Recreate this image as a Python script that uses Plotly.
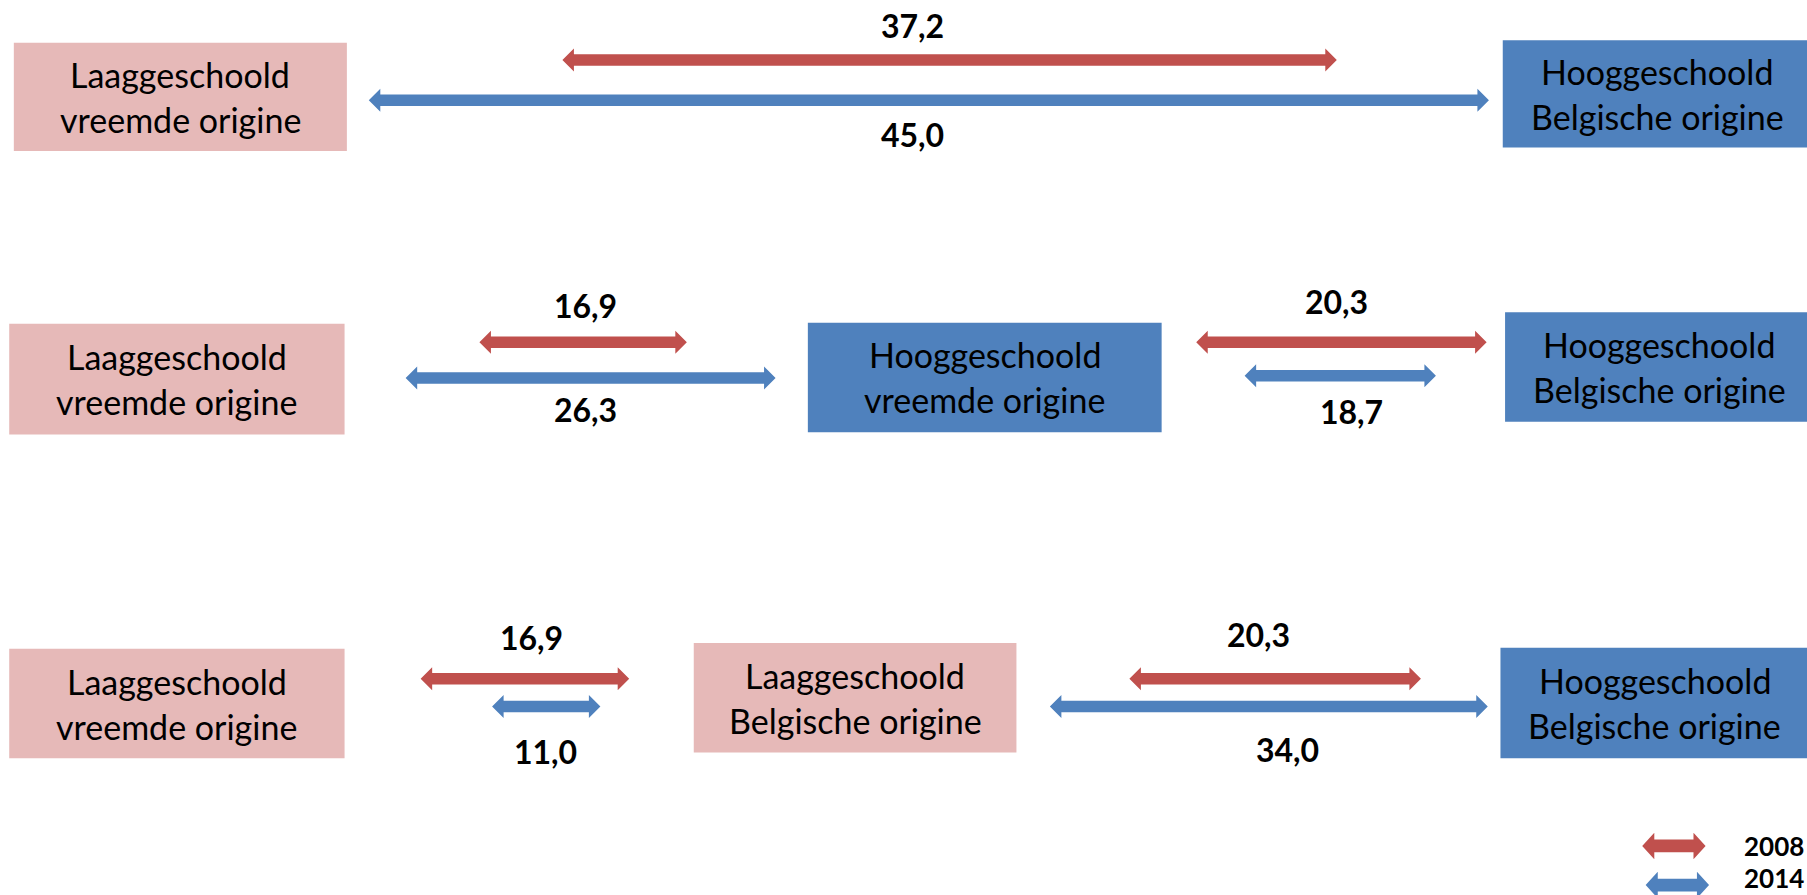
import plotly.graph_objects as go

# ---------------- data ----------------
years = ["2008", "2014"]
gap_2008 = [37.2, 16.9, 20.3, 16.9, 20.3]
gap_2014 = [45.0, 26.3, 18.7, 11.0, 34.0]

box_labels = [
    "Laaggeschoold\nvreemde origine", "Hooggeschoold\nBelgische origine",
    "Laaggeschoold\nvreemde origine", "Hooggeschoold\nvreemde origine", "Hooggeschoold\nBelgische origine",
    "Laaggeschoold\nvreemde origine", "Laaggeschoold\nBelgische origine", "Hooggeschoold\nBelgische origine",
]
box_level = ["laag", "hoog", "laag", "hoog", "hoog", "laag", "laag", "hoog"]

# ---------------- layout (positions, in reference pixel units) ----------------
S = 1807 / 1568
W = 1568
H = 895 / S

box_x0 = [12, 1304, 8, 701, 1306, 8, 602, 1302]
box_x1 = [301, 1572, 299, 1008, 1574, 299, 882, 1570]
box_y0 = [37, 35, 281, 280, 271, 563, 558, 562]
box_y1 = [131, 128, 377, 375, 366, 658, 653, 658]

arr08_x0 = [488, 416, 1038, 365, 980]
arr08_x1 = [1160, 596, 1290, 546, 1233]
arr08_y = [52, 297, 297, 589, 589]
lab08_x = [792, 508, 1160, 461, 1092]
lab08_y = [22, 265, 262, 553, 551]

arr14_x0 = [320, 352, 1080, 427, 911]
arr14_x1 = [1292, 673, 1246, 521, 1291]
arr14_y = [87, 328, 326, 613, 613]
lab14_x = [792, 508, 1173, 473, 1117]
lab14_y = [117, 355, 357, 652, 650]

leg_x0 = [1425, 1428]
leg_x1 = [1480, 1483]
leg_y = [734, 768]
leg_text_x = 1512
leg_text_y = [734, 762]

RED = "#C0504D"
BLUE = "#4F81BD"
PINK = "#E6B9B8"
FONT = "Lato"

fig = go.Figure()


def arrow(x0, x1, yc, color, h=5.0, hh=10.0, hl=10.0):
    xs = [x0, x0 + hl, x0 + hl, x1 - hl, x1 - hl, x1, x1 - hl, x1 - hl, x0 + hl, x0 + hl, x0]
    ys = [yc, yc - hh, yc - h, yc - h, yc - hh, yc, yc + hh, yc + h, yc + h, yc + hh, yc]
    fig.add_trace(go.Scatter(x=xs, y=ys, mode="lines", fill="toself", fillcolor=color,
                             line=dict(width=0, color=color), hoverinfo="skip", showlegend=False))


# boxes
for lab, lvl, x0, x1, y0, y1 in zip(box_labels, box_level, box_x0, box_x1, box_y0, box_y1):
    fig.add_shape(type="rect", xref="x", yref="y", x0=x0, x1=x1, y0=y0, y1=y1,
                  fillcolor=PINK if lvl == "laag" else BLUE, line=dict(width=0), layer="below")
    lines = lab.split("\n")
    cx = (x0 + x1) / 2
    cy = (y0 + y1) / 2
    for i, ln in enumerate(lines):
        fig.add_annotation(x=cx, y=cy + (i - 0.5) * 39, xref="x", yref="y", text=ln,
                           showarrow=False, font=dict(family=FONT, size=34, color="black"),
                           xanchor="center", yanchor="middle")


def fmt(v):
    return f"{v:.1f}".replace(".", ",")


for v, x0, x1, y, lx, ly in zip(gap_2008, arr08_x0, arr08_x1, arr08_y, lab08_x, lab08_y):
    arrow(x0, x1, y, RED)
    fig.add_annotation(x=lx, y=ly, xref="x", yref="y", text="<b>" + fmt(v) + "</b>", showarrow=False,
                       font=dict(family=FONT, size=32, color="black"), xanchor="center", yanchor="middle")

for v, x0, x1, y, lx, ly in zip(gap_2014, arr14_x0, arr14_x1, arr14_y, lab14_x, lab14_y):
    arrow(x0, x1, y, BLUE)
    fig.add_annotation(x=lx, y=ly, xref="x", yref="y", text="<b>" + fmt(v) + "</b>", showarrow=False,
                       font=dict(family=FONT, size=32, color="black"), xanchor="center", yanchor="middle")

# legend
for yr, col, x0, x1, y, ty in zip(years, [RED, BLUE], leg_x0, leg_x1, leg_y, leg_text_y):
    arrow(x0, x1, y, col, h=5.5, hh=11.5, hl=10.5)
    fig.add_annotation(x=leg_text_x, y=ty, xref="x", yref="y", text="<b>" + yr + "</b>", showarrow=False,
                       font=dict(family=FONT, size=26, color="black"), xanchor="left", yanchor="middle")

fig.update_layout(
    width=1807, height=895,
    margin=dict(l=0, r=0, t=0, b=0),
    paper_bgcolor="white", plot_bgcolor="white",
    xaxis=dict(range=[0, W], visible=False, fixedrange=True),
    yaxis=dict(range=[H, 0], visible=False, fixedrange=True),
    showlegend=False, hovermode=False,
)

fig.write_html(
    "out.html",
    config={"displayModeBar": False},
    post_script="document.body.style.margin='0';document.body.style.overflow='hidden';",
)
